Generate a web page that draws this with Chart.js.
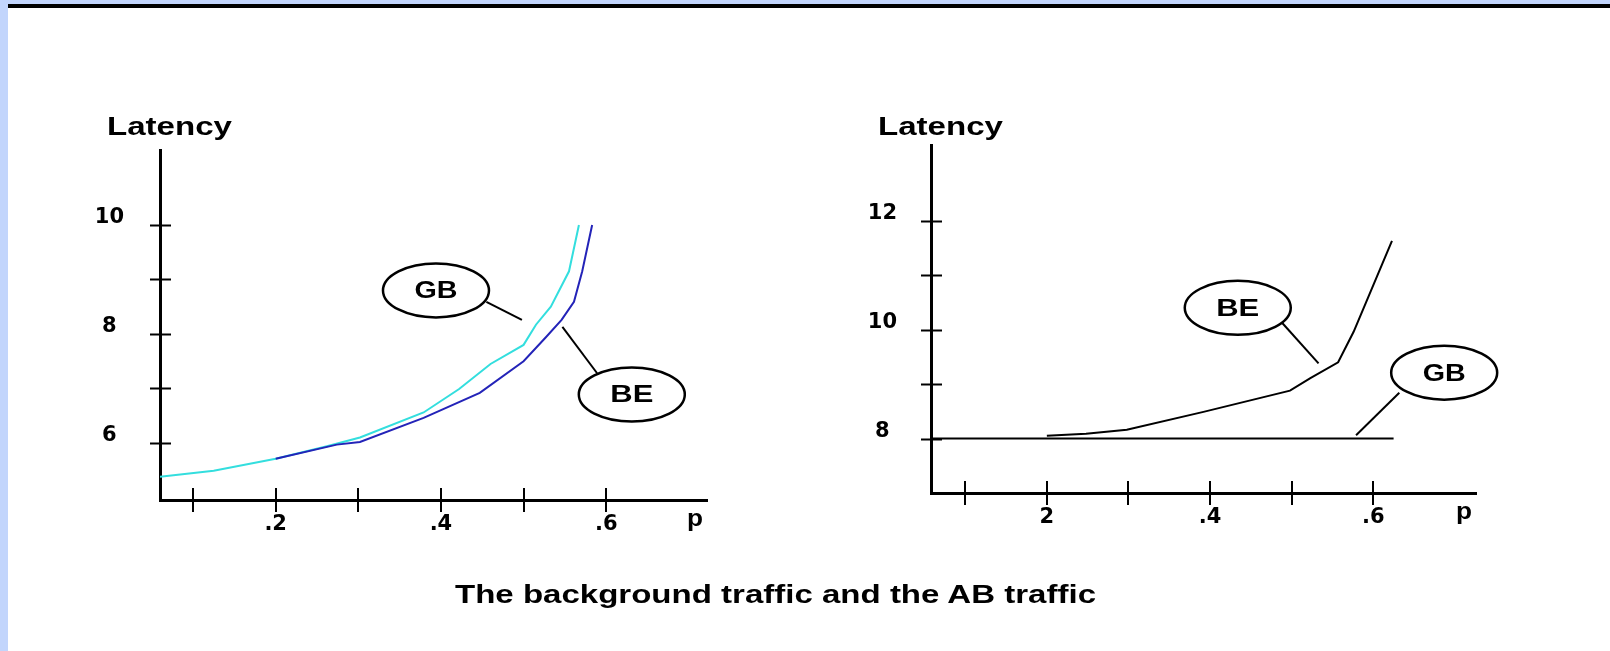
<!DOCTYPE html>
<html lang="en">
<head>
<meta charset="UTF-8">
<title>The background traffic and the AB traffic</title>
<script src="https://cdn.jsdelivr.net/npm/chart.js"></script>
<style>
  body {
    margin: 0;
    width: 1610px;
    height: 651px;
    overflow: hidden;
    position: relative;
    background: #c2d5fc;
  }
  .topbar { position: absolute; left: 8px; top: 4px; right: 0; height: 4px; background: #000; }
  .page { position: absolute; left: 8px; top: 8px; right: 0; bottom: 0; background: #fff; }
  canvas { position: absolute; top: 0; }
  #leftChart { left: 0; }
  #rightChart { left: 800px; }
  .caption {
    position: absolute;
    left: 455px;
    top: 582px;
    font: bold 25px "Liberation Sans", Arial, sans-serif;
    line-height: 25px;
    white-space: nowrap;
    transform-origin: 0 0;
    color: #000;
  }
</style>
</head>
<body>
  <div class="topbar"></div>
  <div class="page"></div>
  <canvas id="leftChart" width="800" height="651"></canvas>
  <canvas id="rightChart" width="810" height="651"></canvas>
  <div class="caption" id="caption">The background traffic and the AB traffic</div>

<script>
// left panel: latency of GB and BE vs p
const leftGbP       = [0.06, 0.125, 0.20, 0.262, 0.302, 0.379, 0.422, 0.46, 0.50, 0.515, 0.533, 0.555, 0.567];
const leftGbLatency = [5.38, 5.49, 5.71, 5.94, 6.10, 6.56, 6.99, 7.45, 7.80, 8.17, 8.50, 9.15, 10.0];
const leftBeP       = [0.20, 0.274, 0.302, 0.379, 0.447, 0.50, 0.527, 0.546, 0.561, 0.571, 0.583];
const leftBeLatency = [5.71, 5.97, 6.02, 6.46, 6.92, 7.50, 7.94, 8.26, 8.59, 9.15, 10.0];

// right panel
const rightBeP       = [0.20, 0.248, 0.298, 0.392, 0.498, 0.523, 0.557, 0.576, 0.623];
const rightBeLatency = [8.05, 8.09, 8.16, 8.49, 8.88, 9.11, 9.40, 9.96, 11.63];
const rightGbP       = [0.058, 0.625];
const rightGbLatency = [8, 8];

const xTickValues      = [0.1, 0.2, 0.3, 0.4, 0.5, 0.6];
const leftXTickLabels  = ['', '.2', '', '.4', '', '.6'];
const rightXTickLabels = ['', '2', '', '.4', '', '.6'];
const leftYTickValues  = [6, 7, 8, 9, 10];
const leftYTickLabels  = ['6', '', '8', '', '10'];
const rightYTickValues = [8, 9, 10, 11, 12];
const rightYTickLabels = ['8', '', '10', '', '12'];

const leftCalloutNames  = ['GB', 'BE'];
const rightCalloutNames = ['BE', 'GB'];
// callout bubble centre and leader line, in data units (p, latency)
const leftCallouts = [
  { p: 0.394, v: 8.80, fromP: 0.455, fromV: 8.59, toP: 0.498, toV: 8.26 },
  { p: 0.631, v: 6.89, fromP: 0.589, fromV: 7.28, toP: 0.547, toV: 8.13 }
];
const rightCallouts = [
  { p: 0.434, v: 10.40, fromP: 0.488, fromV: 10.13, toP: 0.533, toV: 9.38 },
  { p: 0.687, v: 9.21, fromP: 0.632, fromV: 8.84, toP: 0.579, toV: 8.06 }
];

function toPoints(xs, ys) {
  return xs.map((x, i) => ({ x: x, y: ys[i] }));
}

// draws text squeezed/stretched to a given width (the original font is very wide)
function wideText(ctx, text, x, y, width, font, align) {
  ctx.save();
  ctx.font = font;
  const w = ctx.measureText(text).width;
  ctx.translate(x, y);
  ctx.scale(width / w, 1);
  ctx.textAlign = align;
  ctx.textBaseline = 'alphabetic';
  ctx.fillStyle = '#000';
  ctx.fillText(text, 0, 0);
  ctx.restore();
}

const sketchPlugin = {
  id: 'sketch',
  afterDatasetsDraw(chart, args, opts) {
    const ctx = chart.ctx;
    const area = chart.chartArea;
    const xs = chart.scales.x;
    const ys = chart.scales.y;

    ctx.save();
    ctx.strokeStyle = '#000';
    ctx.lineWidth = 2;
    // tick marks crossing the axes
    ys.ticks.forEach(t => {
      const py = Math.round(ys.getPixelForValue(t.value)) + 0.5;
      ctx.beginPath();
      ctx.moveTo(area.left - 10, py);
      ctx.lineTo(area.left + 11, py);
      ctx.stroke();
    });
    xs.ticks.forEach(t => {
      const px = Math.round(xs.getPixelForValue(t.value));
      ctx.beginPath();
      ctx.moveTo(px, area.bottom - 12);
      ctx.lineTo(px, area.bottom + 12);
      ctx.stroke();
    });

    // callout bubbles
    opts.callouts.forEach((c, i) => {
      const cx = xs.getPixelForValue(c.p);
      const cy = ys.getPixelForValue(c.v);
      ctx.lineWidth = 2;
      ctx.beginPath();
      ctx.moveTo(xs.getPixelForValue(c.fromP), ys.getPixelForValue(c.fromV));
      ctx.lineTo(xs.getPixelForValue(c.toP), ys.getPixelForValue(c.toV));
      ctx.stroke();
      ctx.lineWidth = 2.5;
      ctx.beginPath();
      ctx.ellipse(cx, cy, 53, 27, 0, 0, Math.PI * 2);
      ctx.fillStyle = '#fff';
      ctx.fill();
      ctx.stroke();
      wideText(ctx, opts.names[i], cx, cy + 8, 43, 'bold 24px "Liberation Sans"', 'center');
    });
    ctx.restore();

    wideText(ctx, 'Latency', area.left - 53, 135, 125, 'bold 26px "Liberation Sans"', 'left');
    wideText(ctx, 'p', area.right - 20, area.bottom + 26, 16, 'bold 24px "Liberation Sans"', 'left');
  }
};

const tickFont = { family: 'DejaVu Sans', weight: 'bold', size: 21 };

function buildChart(id, cfg) {
  return new Chart(document.getElementById(id), {
    type: 'line',
    data: { datasets: cfg.datasets },
    options: {
      responsive: false,
      animation: false,
      events: [],
      layout: { padding: cfg.padding },
      plugins: {
        legend: { display: false },
        tooltip: { enabled: false },
        sketch: { callouts: cfg.callouts, names: cfg.names }
      },
      elements: { point: { radius: 0 }, line: { tension: 0 } },
      scales: {
        x: {
          type: 'linear',
          min: cfg.xMin,
          max: cfg.xMax,
          afterFit: s => { s.height = cfg.xAxisHeight; },
          afterBuildTicks: s => { s.ticks = xTickValues.map(v => ({ value: v })); },
          grid: { display: false, drawTicks: false },
          border: { color: '#000', width: 3 },
          ticks: {
            autoSkip: false, maxRotation: 0, padding: 12, color: '#000', font: tickFont,
            callback: v => cfg.xLabels[xTickValues.indexOf(v)] || ''
          }
        },
        y: {
          min: cfg.yMin,
          max: cfg.yMax,
          afterFit: s => { s.width = cfg.yAxisWidth; },
          afterBuildTicks: s => { s.ticks = cfg.yValues.map(v => ({ value: v })); },
          grid: { display: false, drawTicks: false },
          border: { color: '#000', width: 3 },
          ticks: {
            autoSkip: false, padding: cfg.yPadding, crossAlign: 'center', labelOffset: -7,
            color: '#000', font: tickFont,
            callback: v => cfg.yLabels[cfg.yValues.indexOf(v)] || ''
          }
        }
      }
    },
    plugins: [sketchPlugin]
  });
}

buildChart('leftChart', {
  datasets: [
    { data: toPoints(leftBeP, leftBeLatency), borderColor: '#2323b8', borderWidth: 2 },
    { data: toPoints(leftGbP, leftGbLatency), borderColor: '#33dede', borderWidth: 2 }
  ],
  padding: { top: 150, right: 93, left: 0, bottom: 0 },
  xMin: 0.06, xMax: 0.722, yMin: 4.954, yMax: 11.376,
  xAxisHeight: 151, yAxisWidth: 160, yPadding: 36,
  xLabels: leftXTickLabels, yValues: leftYTickValues, yLabels: leftYTickLabels,
  callouts: leftCallouts, names: leftCalloutNames
});

buildChart('rightChart', {
  datasets: [
    { data: toPoints(rightBeP, rightBeLatency), borderColor: '#000', borderWidth: 2 },
    { data: toPoints(rightGbP, rightGbLatency), borderColor: '#000', borderWidth: 2 }
  ],
  padding: { top: 145, right: 134, left: 0, bottom: 0 },
  xMin: 0.058, xMax: 0.726, yMin: 7.0, yMax: 13.39,
  xAxisHeight: 158, yAxisWidth: 131, yPadding: 34,
  xLabels: rightXTickLabels, yValues: rightYTickValues, yLabels: rightYTickLabels,
  callouts: rightCallouts, names: rightCalloutNames
});

// stretch the caption to the width it has in the original
const caption = document.getElementById('caption');
caption.style.transform = 'scaleX(' + (641 / caption.getBoundingClientRect().width) + ')';
</script>
</body>
</html>
